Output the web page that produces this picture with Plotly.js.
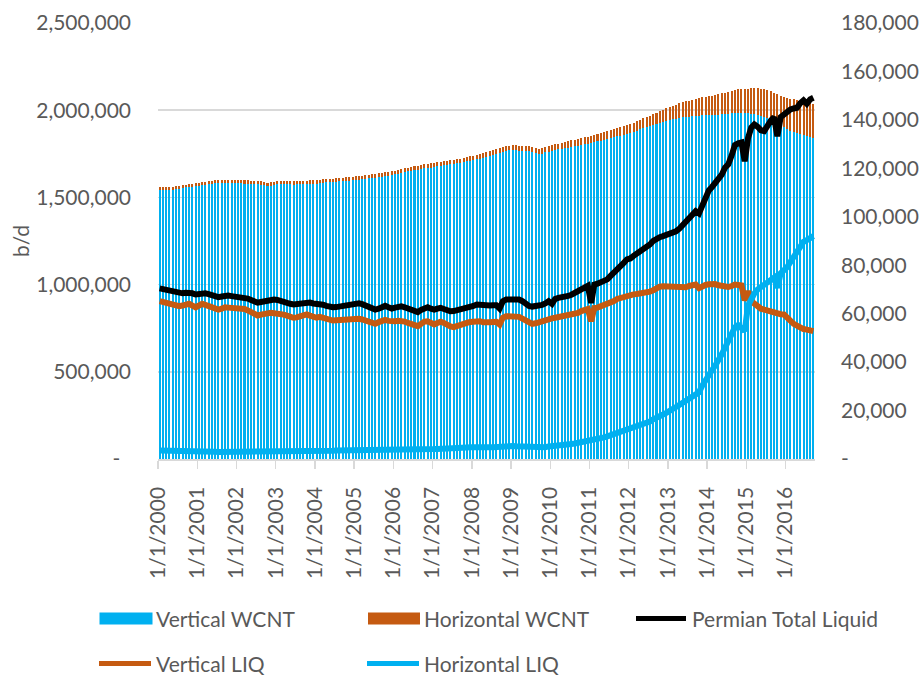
<!DOCTYPE html>
<html>
<head>
<meta charset="utf-8">
<script src="https://cdn.plot.ly/plotly-3.0.1.min.js"></script>
<style>
html,body{margin:0;padding:0;background:#ffffff;}
#chart{width:924px;height:678px;}
</style>
</head>
<body>
<div id="chart"></div>
<script>
// ---------------- DATA ----------------
const startYear = 2000;
const monthCount = 201; // Jan 2000 .. Sep 2016

const yearTickLabels = ['1/1/2000','1/1/2001','1/1/2002','1/1/2003','1/1/2004','1/1/2005','1/1/2006','1/1/2007','1/1/2008','1/1/2009','1/1/2010','1/1/2011','1/1/2012','1/1/2013','1/1/2014','1/1/2015','1/1/2016'];
const leftTickValues = [0, 500000, 1000000, 1500000, 2000000, 2500000];
const leftTickLabels = ['-\u00a0\u00a0', '500,000', '1,000,000', '1,500,000', '2,000,000', '2,500,000'];
const rightTickValues = [0, 20000, 40000, 60000, 80000, 100000, 120000, 140000, 160000, 180000];
const rightTickLabels = ['-', '20,000', '40,000', '60,000', '80,000', '100,000', '120,000', '140,000', '160,000', '180,000'];
const seriesNames = ['Vertical WCNT', 'Horizontal WCNT', 'Permian Total Liquid', 'Vertical LIQ', 'Horizontal LIQ'];
const leftAxisTitle = 'b/d';

// well counts (right axis)
const verticalWCNT = [
111250,111140,111050,110930,111130,111420,111620,111810,112110,112300,112500,112690,
112890,113080,113290,113470,113670,113860,113960,114050,113950,113840,113840,113930,
113830,113820,113720,113710,113610,113600,113400,113290,113090,112580,112880,113170,
113370,113370,113460,113360,113350,113250,113340,113340,113430,113530,113620,113720,
113720,113910,114110,114200,114300,114390,114490,114580,114680,114870,114970,115160,
115260,115350,115550,115740,115930,116020,116210,116400,116590,116780,116970,117260,
117550,117840,118130,118420,118710,119000,119290,119480,119670,119960,120150,120340,
120530,120820,121010,121200,121390,121680,121870,122060,122250,122540,122830,123220,
123500,123780,124060,124340,124720,125100,125480,125860,126340,126820,127200,127380,
127460,127440,127320,127200,127080,126960,126640,126220,125800,126080,126560,126940,
127300,127550,127800,128050,128300,128550,128900,129150,129400,129700,129900,130100,
130450,130800,131150,131400,131750,132100,132450,132800,133150,133500,133850,134200,
134750,135200,135600,136100,136600,137100,137600,138000,138400,138800,139200,139600,
139900,140200,140500,140800,141000,141200,141400,141600,141700,141800,141900,142000,
142000,142000,142100,142200,142300,142400,142600,142800,142900,143000,143000,142900,
142700,142600,142500,142200,141800,141400,140800,140200,139400,138500,137600,136900,
136200,135600,135100,134600,134100,133600,133200,132800,132400
];
const horizontalWCNT = [
1150,1160,1150,1170,1170,1180,1180,1190,1190,1200,1200,1210,
1210,1220,1210,1230,1230,1240,1240,1250,1250,1260,1260,1270,
1270,1280,1280,1290,1290,1300,1300,1310,1310,1320,1320,1330,
1330,1330,1340,1340,1350,1350,1360,1360,1370,1370,1380,1380,
1380,1390,1390,1400,1400,1410,1410,1420,1420,1430,1430,1440,
1440,1450,1450,1460,1470,1480,1490,1500,1510,1520,1530,1540,
1550,1560,1570,1580,1590,1600,1610,1620,1630,1640,1650,1660,
1670,1680,1690,1700,1710,1720,1730,1740,1750,1760,1770,1780,
1800,1820,1840,1860,1880,1900,1920,1940,1960,1980,2000,2020,
2040,2060,2080,2100,2120,2140,2160,2180,2200,2220,2240,2260,
2300,2350,2400,2450,2500,2550,2600,2650,2700,2800,2900,3000,
3050,3100,3150,3200,3250,3300,3350,3400,3450,3500,3550,3600,
3650,3700,3800,3900,4000,4100,4200,4400,4600,4800,5000,5200,
5400,5600,5800,6000,6200,6400,6600,6800,7000,7200,7400,7600,
7800,8000,8200,8400,8600,8800,9000,9200,9400,9600,9800,10000,
10200,10400,10600,10800,11000,11200,11400,11600,11800,12100,12400,12700,
13000,13200,13400,13600,13800,14000,14100,14200,14300
];

// liquids, b/d (left axis)
const permianTotalLiquid = [
978000,974000,966000,960000,956000,951000,947000,950000,953000,955000,950000,943000,
948000,954000,950000,945000,940000,934000,928000,932000,939000,937000,934000,932000,
932000,930000,925000,920000,912000,902000,896000,900000,905000,910000,915000,914000,
912000,905000,900000,896000,890000,886000,888000,893000,898000,901000,897000,892000,
890000,891000,885000,878000,872000,870000,871000,874000,876000,878000,884000,890000,
890000,893000,888000,880000,870000,862000,857000,862000,872000,878000,870000,863000,
868000,874000,876000,870000,862000,852000,845000,842000,855000,866000,870000,862000,
856000,862000,867000,860000,852000,847000,848000,852000,858000,863000,868000,875000,
878000,886000,884000,878000,876000,880000,882000,882000,863000,905000,914000,916000,
915000,915000,914000,905000,890000,878000,874000,876000,880000,884000,892000,905000,
890000,918000,924000,926000,928000,935000,942000,953000,965000,978000,990000,993000,
895000,1000000,1005000,1012000,1018000,1030000,1050000,1072000,1090000,1105000,1125000,1145000,
1150000,1165000,1178000,1190000,1202000,1212000,1230000,1250000,1265000,1272000,1278000,1285000,
1290000,1298000,1306000,1320000,1340000,1360000,1380000,1400000,1421000,1408000,1460000,1510000,
1540000,1560000,1580000,1600000,1630000,1670000,1690000,1740000,1800000,1810000,1815000,1707000,
1840000,1900000,1918000,1905000,1885000,1880000,1915000,1940000,1960000,1851000,1960000,1978000,
1990000,2004000,2010000,2014000,2040000,2056000,2037000,2062000,2071000
];
const verticalLIQ = [
905000,900000,893000,887000,882000,878000,876000,880000,886000,890000,880000,870000,
880000,890000,884000,876000,870000,864000,857000,862000,870000,868000,867000,866000,
866000,864000,860000,852000,842000,830000,823000,828000,834000,838000,838000,836000,
835000,833000,828000,822000,815000,810000,812000,818000,825000,829000,822000,815000,
810000,815000,808000,800000,796000,794000,795000,797000,798000,800000,802000,805000,
805000,804000,800000,792000,784000,778000,775000,785000,795000,798000,792000,787000,
790000,793000,794000,788000,780000,772000,765000,762000,775000,788000,790000,782000,
772000,780000,787000,780000,768000,760000,756000,760000,768000,775000,780000,786000,
790000,794000,790000,784000,781000,784000,786000,787000,771000,810000,819000,818000,
817000,816000,815000,805000,792000,780000,775000,778000,785000,794000,800000,806000,
806000,810000,814000,816000,819000,820000,824000,829000,838000,848000,857000,860000,
790000,866000,868000,874000,880000,886000,896000,906000,918000,925000,932000,938000,
942000,944000,946000,948000,950000,953000,960000,968000,980000,988000,991000,990000,
988000,985000,982000,980000,978000,985000,992000,996000,1000000,980000,992000,998000,
1002000,1005000,1003000,996000,990000,985000,986000,992000,1000000,998000,995000,909000,
962000,905000,890000,875000,862000,857000,850000,848000,842000,835000,830000,829000,
810000,790000,775000,765000,752000,745000,742000,738000,733000
];
const horizontalLIQ = [
49000,49000,48000,47000,46000,45000,44000,44000,43000,43000,42000,42000,
42000,42000,41000,41000,41000,41000,40000,40000,40000,40000,41000,41000,
41000,41000,41000,41000,42000,42000,42000,42000,42000,43000,43000,43000,
43000,43000,44000,44000,44000,45000,45000,45000,46000,46000,46000,47000,
47000,47000,47000,48000,48000,48000,49000,49000,49000,50000,50000,50000,
50000,51000,51000,51000,52000,52000,52000,53000,53000,53000,53000,54000,
54000,54000,54000,55000,55000,55000,55000,56000,56000,56000,57000,57000,
57000,58000,58000,59000,60000,61000,62000,63000,64000,65000,66000,67000,
66000,64000,64000,65000,66000,67000,68000,70000,66000,72000,73000,74000,
74000,73000,72000,70000,68000,66000,64000,64000,65000,66000,68000,72000,
73000,75000,77000,79000,81000,83000,86000,89000,92000,95000,99000,102000,
104000,108000,113000,118000,124000,130000,136000,143000,150000,157000,164000,171000,
178000,184000,188000,194000,200000,207000,215000,228000,240000,245000,255000,265000,
274000,285000,298000,310000,322000,336000,350000,365000,380000,382000,420000,455000,
485000,510000,535000,561000,600000,638000,680000,720000,755000,768000,745000,733000,
880000,920000,950000,972000,985000,1005000,1020000,1030000,1040000,982000,1065000,1082000,
1100000,1130000,1155000,1180000,1215000,1245000,1255000,1270000,1278000
];

// ---------------- CATEGORIES (months) ----------------
const months = [];
for (let i = 0; i < monthCount; i++) {
  const y = startYear + Math.floor(i / 12);
  const m = (i % 12) + 1;
  months.push(y + '-' + String(m).padStart(2, '0') + '-01');
}
const yearTickValues = yearTickLabels.map(t => t.split('/')[2] + '-01-01');
const rangeEnd = '2016-10-01';

// ---------------- STYLE ----------------
const FONT = 'Lato, "Open Sans", "DejaVu Sans", sans-serif';
const GRAY = '#595959';
const GRID = '#d9d9d9';
const BLUE = '#00B0F0';
const ORANGE = '#C55A11';
const BLACK = '#000000';
const W = 924, H = 678;
const ML = 158, MR = 109, MT = 23, MB = 219;
const PW = W - ML - MR, PH = H - MT - MB;
const pxX = px => (px - ML) / PW;
const pxY = py => (H - MB - py) / PH;
const DAY = 86400000;
const barWidth = 0.62 * 30.44 * DAY;
const LINE_W = 6;

const traces = [
  {type: 'bar', name: seriesNames[0], x: months, y: verticalWCNT, xperiod: 'M1', xperiodalignment: 'middle',
   width: barWidth, yaxis: 'y', marker: {color: BLUE, line: {width: 0}}, showlegend: false},
  {type: 'bar', name: seriesNames[1], x: months, y: horizontalWCNT, xperiod: 'M1', xperiodalignment: 'middle',
   width: barWidth, yaxis: 'y', marker: {color: ORANGE, line: {width: 0}}, showlegend: false},
  {type: 'scatter', mode: 'lines', name: seriesNames[2], x: months, y: permianTotalLiquid, xperiod: 'M1', xperiodalignment: 'middle',
   yaxis: 'y2', line: {color: BLACK, width: LINE_W}, showlegend: false},
  {type: 'scatter', mode: 'lines', name: seriesNames[3], x: months, y: verticalLIQ, xperiod: 'M1', xperiodalignment: 'middle',
   yaxis: 'y2', line: {color: ORANGE, width: LINE_W}, showlegend: false},
  {type: 'scatter', mode: 'lines', name: seriesNames[4], x: months, y: horizontalLIQ, xperiod: 'M1', xperiodalignment: 'middle',
   yaxis: 'y2', line: {color: BLUE, width: LINE_W}, showlegend: false}
];

// custom legend (Excel-like wide swatches)
const legendItems = [
  {name: seriesNames[0], kind: 'rect', color: BLUE,   x0: 99.5, x1: 152.5, y: 618.5, tx: 155},
  {name: seriesNames[1], kind: 'rect', color: ORANGE, x0: 368,  x1: 420,   y: 618.5, tx: 423},
  {name: seriesNames[2], kind: 'line', color: BLACK,  x0: 636,  x1: 686,   y: 618.5, tx: 691},
  {name: seriesNames[3], kind: 'line', color: ORANGE, x0: 99,   x1: 151,   y: 663.5, tx: 155},
  {name: seriesNames[4], kind: 'line', color: BLUE,   x0: 367,  x1: 419,   y: 663.5, tx: 423}
];
const shapes = [];
const annotations = [];
legendItems.forEach(it => {
  if (it.kind === 'rect') {
    shapes.push({type: 'rect', xref: 'paper', yref: 'paper', x0: pxX(it.x0), x1: pxX(it.x1),
      y0: pxY(it.y - 6), y1: pxY(it.y + 6), fillcolor: it.color, line: {width: 0}});
  } else {
    shapes.push({type: 'line', xref: 'paper', yref: 'paper', x0: pxX(it.x0), x1: pxX(it.x1),
      y0: pxY(it.y), y1: pxY(it.y), line: {color: it.color, width: 5}});
  }
  annotations.push({xref: 'paper', yref: 'paper', x: pxX(it.tx), y: pxY(it.y), xanchor: 'left', yanchor: 'middle',
    text: it.name, showarrow: false, font: {family: FONT, size: 21, color: GRAY}, borderpad: 0});
});

const tickFont = {family: FONT, size: 21, color: GRAY};

const layout = {
  width: W, height: H,
  margin: {l: ML, r: MR, t: MT, b: MB, pad: 0},
  paper_bgcolor: '#ffffff', plot_bgcolor: '#ffffff',
  barmode: 'stack',
  showlegend: false,
  font: {family: FONT, color: GRAY},
  xaxis: {
    type: 'date', range: [months[0], rangeEnd], tickmode: 'array', tickvals: yearTickValues, ticktext: yearTickLabels,
    tickangle: -90, ticks: 'outside', ticklen: 8, tickwidth: 1.5, tickcolor: GRID,
    showline: true, linecolor: GRID, linewidth: 1.5, showgrid: false, zeroline: false,
    tickfont: tickFont, ticklabelstandoff: 10, fixedrange: true
  },
  yaxis: {
    range: [0, 180000], side: 'right', tickmode: 'array', tickvals: rightTickValues, ticktext: rightTickLabels,
    showgrid: false, zeroline: false, showline: false, ticks: '', tickfont: tickFont, ticklabelstandoff: 25, fixedrange: true
  },
  yaxis2: {
    range: [0, 2500000], side: 'left', overlaying: 'y', tickmode: 'array', tickvals: leftTickValues, ticktext: leftTickLabels,
    showgrid: true, gridcolor: GRID, gridwidth: 1.5, zeroline: false, showline: false, ticks: '',
    tickfont: tickFont, ticklabelstandoff: 26, fixedrange: true,
    title: {text: leftAxisTitle, font: {family: FONT, size: 21, color: GRAY}, standoff: 0}
  },
  shapes: shapes,
  annotations: annotations
};

Plotly.newPlot('chart', traces, layout, {displayModeBar: false, staticPlot: true});
</script>
</body>
</html>
